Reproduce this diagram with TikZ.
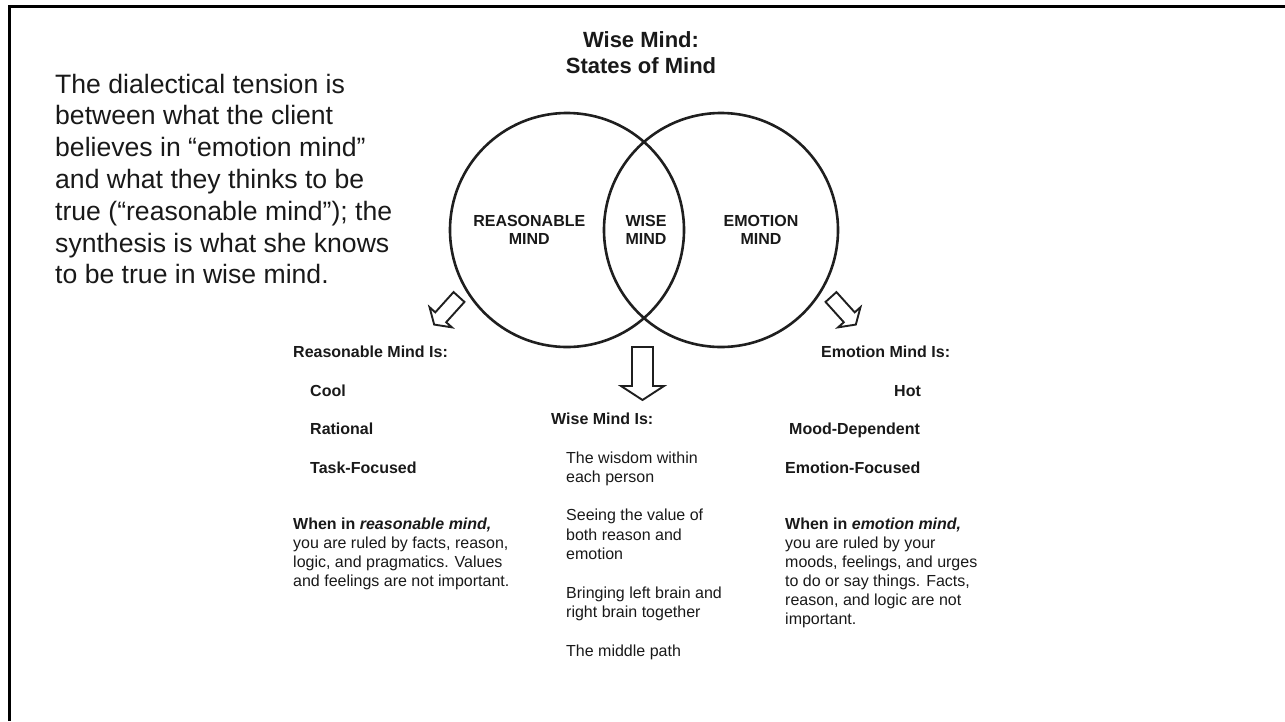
\documentclass[tikz,border=0pt]{standalone}
\usepackage{fontspec}
\setmainfont{Liberation Sans}
% stacked lines whose baseline is the first line's baseline
\newcommand\txtlines[2][l]{\begin{tabular}[t]{@{}#1@{}}#2\end{tabular}}
\begin{document}
\begin{tikzpicture}[x=1pt,y=-1pt,
  frameline/.style={draw=black, line width=3pt, line join=miter},
  vennc/.style={circle, draw=black!88, line width=2.6pt, minimum size=234pt, inner sep=0pt},
  arrowstroke/.style={draw=black!88, line width=1.9pt, line join=miter, fill=white},
  txt/.style={inner sep=0pt, text=black!90},
  bodyfont/.style={font=\fontsize{16}{19.3}\selectfont},
  headfont/.style={font=\fontsize{16}{19.3}\selectfont\bfseries},
  clabel/.style={txt, anchor=base, font=\fontsize{16}{18.7}\selectfont\bfseries},
  hollowarrow/.pic={
    \draw[arrowstroke] (-10.5,0) -- (10.5,0) -- (10.5,39) -- (21.5,39)
      -- (0,53) -- (-21.5,39) -- (-10.5,39) -- cycle;
  }
]
\useasboundingbox (0,0) rectangle (1285,721);

% slide frame (top and left edges)
\draw[frameline] (9.5,721) -- (9.5,6) -- (1285,6);

% note on the left
\node[txt, anchor=base west, font=\fontsize{26.6}{31.8}\selectfont] (note) at (55,93)
  {\txtlines{The dialectical tension is\\between what the client\\believes in “emotion mind”\\and what they thinks to be\\true (“reasonable mind”); the\\synthesis is what she knows\\to be true in wise mind.}};

% title
\node[txt, anchor=base, font=\fontsize{22}{26}\selectfont\bfseries] (title) at (641,47)
  {\txtlines[c]{Wise Mind:\\States of Mind}};

% the two overlapping minds
\node[vennc] (reason) at (567,230) {};
\node[vennc] (emotion) at (721,230) {};
\node[clabel] (lreason) at (529.3,226) {\txtlines[c]{REASONABLE\\MIND}};
\node[clabel] (lwise) at (646,226) {\txtlines[c]{WISE\\MIND}};
\node[clabel] (lemotion) at (761,226) {\txtlines[c]{EMOTION\\MIND}};

% hollow arrows pointing to the descriptions
\pic[rotate=-42, scale=0.7] at (459,297) {hollowarrow};
\pic at (642.5,347) {hollowarrow};
\pic[rotate=42, scale=0.7] at (831,297) {hollowarrow};

% reasonable mind column
\node[txt, headfont, anchor=base west] (rhead) at (293,357) {Reasonable Mind Is:};
\node[txt, headfont, anchor=base west] (rlist) at (310,396)
  {\txtlines{Cool\\[19.3pt]Rational\\[19.3pt]Task-Focused}};
\node[txt, font=\fontsize{16}{19}\selectfont, anchor=base west] (rtext) at (293,529)
  {\txtlines{\textbf{When in \textit{reasonable mind,}}\\you are ruled by facts, reason,\\logic, and pragmatics. Values\\and feelings are not important.}};

% wise mind column
\node[txt, headfont, anchor=base west] (whead) at (551,424) {Wise Mind Is:};
\node[txt, bodyfont, anchor=base west] (wlist) at (566,463)
  {\txtlines{The wisdom within\\each person\\[19.3pt]Seeing the value of\\both reason and\\emotion\\[19.3pt]Bringing left brain and\\right brain together\\[19.3pt]The middle path}};

% emotion mind column
\node[txt, headfont, anchor=base west] (ehead) at (821,357) {Emotion Mind Is:};
\node[txt, headfont, anchor=base west] (ehot) at (894,396) {Hot};
\node[txt, headfont, anchor=base west] (emood) at (789,434.6) {Mood-Dependent};
\node[txt, headfont, anchor=base west] (efocus) at (785,473.2) {Emotion-Focused};
\node[txt, font=\fontsize{16}{19}\selectfont, anchor=base west] (etext) at (785,529)
  {\txtlines{\textbf{When in \textit{emotion mind,}}\\you are ruled by your\\moods, feelings, and urges\\to do or say things. Facts,\\reason, and logic are not\\important.}};
\end{tikzpicture}
\end{document}
